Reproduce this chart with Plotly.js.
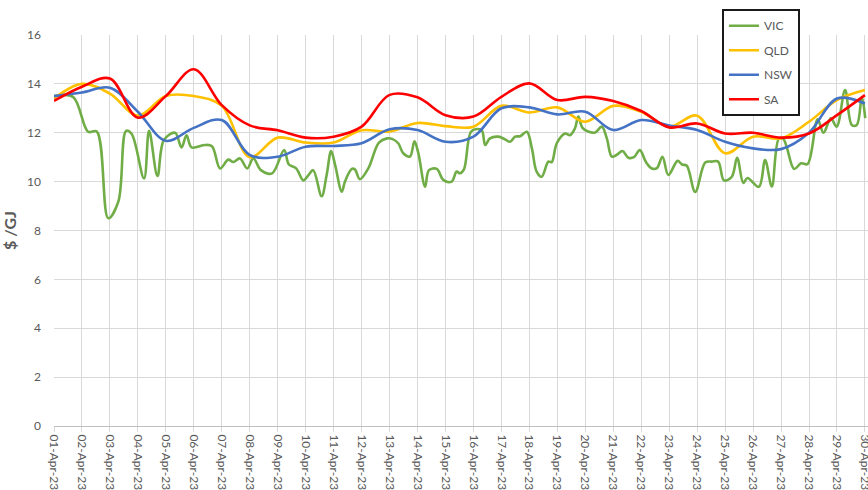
<!DOCTYPE html>
<html>
<head>
<meta charset="utf-8">
<script src="https://cdn.plot.ly/plotly-3.0.1.min.js"></script>
<style>html,body{margin:0;padding:0;background:#fff;}#chart{width:868px;height:490px;}</style>
</head>
<body>
<div id="chart"></div>
<script>
// Daily dates (01-Apr-23 .. 30-Apr-23)
const days = [];
for (let i = 1; i <= 30; i++) days.push('2023-04-' + String(i).padStart(2, '0'));

// Daily prices ($/GJ)
const qld = [13.4,14.0,13.6,12.7,13.5,13.5,13.1,11.0,11.8,11.6,11.6,12.1,12.05,12.4,12.27,
             12.25,13.1,12.83,13.04,12.45,13.1,12.86,12.25,12.7,11.16,11.84,11.77,12.45,13.34,13.75];
const nsw = [13.5,13.65,13.84,12.86,11.67,12.2,12.52,11.09,11.02,11.43,11.46,11.57,12.14,12.11,11.63,
             11.84,13.0,13.04,12.75,12.86,12.11,12.52,12.3,12.11,11.63,11.36,11.33,12.0,13.4,13.2];
const sa  = [13.3,13.88,14.22,12.62,13.5,14.6,13.13,12.3,12.1,11.8,11.84,12.25,13.55,13.45,12.72,
             12.66,13.47,14.02,13.34,13.47,13.3,12.89,12.22,12.38,11.97,12.0,11.8,11.97,12.72,13.54];

// VIC intra-period prices: time as fractional days after 01-Apr-23 00:00
const vicDay = [0.00,0.68,1.22,1.53,1.94,2.30,2.58,2.78,3.22,3.40,3.70,3.93,4.33,4.56,4.74,4.92,5.40,5.65,5.94,
  6.23,6.41,6.65,6.91,7.13,7.40,7.80,8.23,8.40,8.66,8.92,9.10,9.27,9.57,9.75,9.91,10.05,10.29,10.41,10.65,10.76,
  10.94,11.24,11.62,11.91,12.09,12.31,12.49,12.73,12.89,13.03,13.27,13.41,13.69,13.92,14.22,14.40,14.52,14.66,
  14.91,15.12,15.30,15.42,15.59,15.89,16.13,16.31,16.49,16.67,16.91,17.09,17.26,17.44,17.68,17.80,17.98,18.28,
  18.45,18.63,18.75,18.90,19.10,19.35,19.59,19.77,19.95,20.13,20.33,20.54,20.74,20.95,21.17,21.38,21.56,21.76,
  21.97,22.30,22.46,22.63,22.93,23.29,23.53,23.75,23.96,24.24,24.43,24.65,24.80,25.21,25.43,25.67,25.92,26.08,
  26.20,26.47,26.72,26.95,27.31,27.52,27.78,27.99,28.29,28.53,28.71,28.89,29.01];
const vicVal = [13.5,13.47,12.04,12.05,8.5,9.18,12.08,11.95,10.13,12.08,10.23,11.7,12.0,11.4,11.9,11.4,11.5,11.45,10.54,
  10.9,10.8,10.95,10.54,10.95,10.47,10.34,11.29,10.7,10.54,10.05,10.27,10.47,9.4,10.27,11.25,10.7,9.59,10.02,10.52,10.5,
  10.1,10.54,11.6,11.77,11.75,11.57,11.16,11.03,11.65,11.16,9.79,10.47,10.52,10.07,10.0,10.41,10.34,10.5,
  12.04,12.15,12.1,11.5,11.77,11.84,11.73,11.63,11.84,11.86,12.04,11.36,10.41,10.2,10.82,10.8,11.57,11.97,
  11.9,12.18,12.66,12.2,12.05,12.01,12.25,11.77,11.02,11.1,11.25,10.98,11.0,11.29,10.8,10.54,10.55,11.02,
  10.27,10.85,10.7,10.65,9.58,10.78,10.82,10.82,10.05,10.2,10.98,9.95,10.15,9.79,10.88,9.8,11.75,11.75,
  11.43,10.52,10.75,10.72,12.55,12.0,12.59,12.25,13.75,12.32,12.32,13.45,12.6];

const t0 = Date.UTC(2023, 3, 1);
const toStr = d => new Date(t0 + d * 86400000).toISOString().replace('T', ' ').slice(0, 19);
const vicX = vicDay.map(toStr);

const lineW = 2.6;
const traces = [
  {name: 'VIC', x: vicX, y: vicVal, color: '#70AD47'},
  {name: 'QLD', x: days, y: qld, color: '#FFC000'},
  {name: 'NSW', x: days, y: nsw, color: '#4472C4'},
  {name: 'SA',  x: days, y: sa,  color: '#FF0000'}
].map((s, i) => ({
  type: 'scatter', mode: 'lines', name: s.name, x: s.x, y: s.y,
  legendgroup: 'g' + i,
  line: {color: s.color, width: lineW, shape: 'spline', smoothing: 1}
}));

const font = {family: 'Lato, "Open Sans", sans-serif', color: '#595959', size: 12};

const layout = {
  width: 868, height: 490,
  margin: {l: 54, r: 0, t: 35, b: 64},
  paper_bgcolor: '#ffffff', plot_bgcolor: '#ffffff',
  font: font,
  showlegend: true,
  legend: {
    x: 0.8206, y: 1.066, xanchor: 'left', yanchor: 'top',
    bgcolor: '#ffffff', bordercolor: '#1a1a1a', borderwidth: 2,
    font: {family: font.family, color: '#595959', size: 12},
    traceorder: 'grouped', tracegroupgap: 5.5
  },
  xaxis: {
    type: 'date',
    range: [toStr(0), toStr(29.11)],
    tick0: '2023-04-01', dtick: 86400000,
    tickformat: '%d-%b-%y', tickangle: 90,
    ticklabeloverflow: 'allow',
    tickfont: {family: font.family, color: '#595959', size: 12},
    showgrid: true, gridcolor: '#d9d9d9', gridwidth: 1,
    ticks: 'outside', ticklen: 5, tickcolor: '#d9d9d9',
    showline: true, linecolor: '#bfbfbf', linewidth: 1,
    zeroline: false, fixedrange: true
  },
  yaxis: {
    range: [0, 16], dtick: 2, tick0: 0,
    tickfont: {family: font.family, color: '#595959', size: 12},
    showgrid: true, gridcolor: '#d9d9d9', gridwidth: 1,
    zeroline: false, showline: false, ticks: '', ticklabelstandoff: 12,
    title: {text: '<b>$ /GJ</b>', font: {family: font.family, color: '#595959', size: 16}, standoff: 10},
    fixedrange: true
  }
};

Plotly.newPlot('chart', traces, layout, {staticPlot: true, displayModeBar: false});
</script>
</body>
</html>
